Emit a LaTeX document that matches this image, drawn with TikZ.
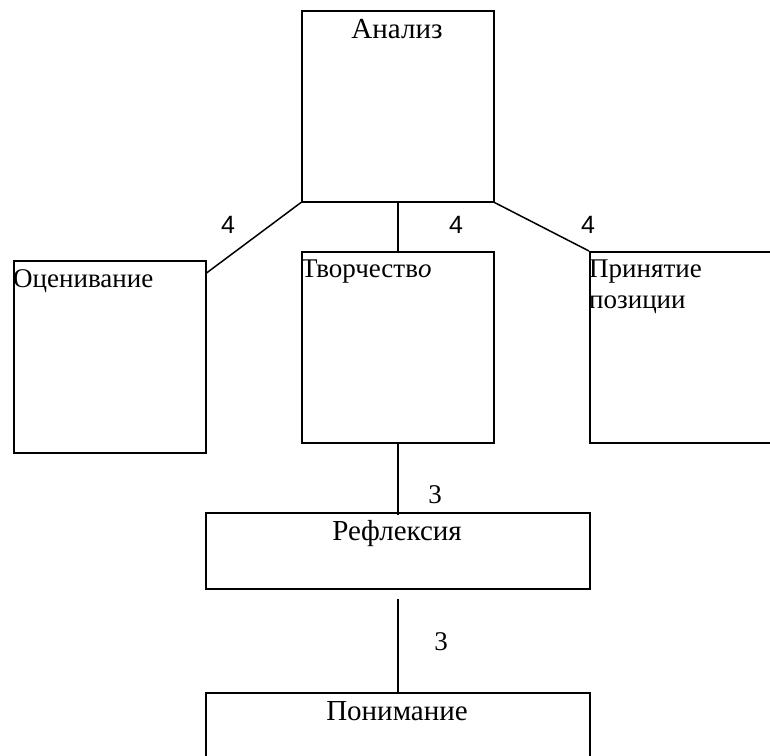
\documentclass[tikz,border=0pt]{standalone}
\usepackage{fontspec}
\setmainfont{Liberation Serif}
\newfontfamily\digitfont{Liberation Sans}
\begin{document}
\begin{tikzpicture}[x=1pt,y=-1pt,
  box/.style={draw,line width=1.5pt,rectangle,inner sep=0pt,anchor=north west},
  txt/.style={inner sep=0pt,font=\fontsize{27}{31}\selectfont},
  ctxt/.style={inner sep=0pt,font=\fontsize{29}{33}\selectfont},
  num/.style={inner sep=0pt,font=\digitfont\fontsize{25}{28}\selectfont},
  numb/.style={inner sep=0pt,font=\fontsize{27}{30}\selectfont},
  link/.style={line width=1.5pt}]
\useasboundingbox (0,0) rectangle (770,755);
\node[box,minimum width=192pt,minimum height=191pt] (an) at (301,10) {};
\node[box,minimum width=192pt,minimum height=192pt] (oc) at (13,260) {};
\node[box,minimum width=192pt,minimum height=191pt] (tv) at (301,251) {};
\node[box,minimum width=190pt,minimum height=191pt] (pp) at (589,251) {};
\node[box,minimum width=384pt,minimum height=76pt] (rf) at (205,512) {};
\node[box,minimum width=384pt,minimum height=70pt] (pn) at (205,692) {};
\node[ctxt,anchor=base] at (397,38) {Анализ};
\node[txt,anchor=base west] at (13,287) {Оценивание};
\node[txt,anchor=base west] at (301,277) {Творчеств\textit{o}};
\node[txt,anchor=base west] (pp1) at (589,277) {Принятие};
\node[txt,anchor=base west] (pp2) at (589,308) {позиции};
\node[ctxt,anchor=base] at (397,540) {Рефлексия};
\node[ctxt,anchor=base] at (397,720) {Понимание};
\draw[link] (an.south west) -- ([yshift=-13pt]oc.north east);
\draw[link] (an.south) -- (tv.north);
\draw[link] (an.south east) -- (pp.north west);
\draw[link] (tv.south) -- ([yshift=-3pt]rf.north);
\draw[link] ([yshift=-9pt]rf.south) -- (pn.north);
\node[num] at (228,225) {4};
\node[num] at (456,225) {4};
\node[num] at (588,225) {4};
\node[numb] at (435,495) {3};
\node[numb] at (441,642) {3};
\end{tikzpicture}
\end{document}
